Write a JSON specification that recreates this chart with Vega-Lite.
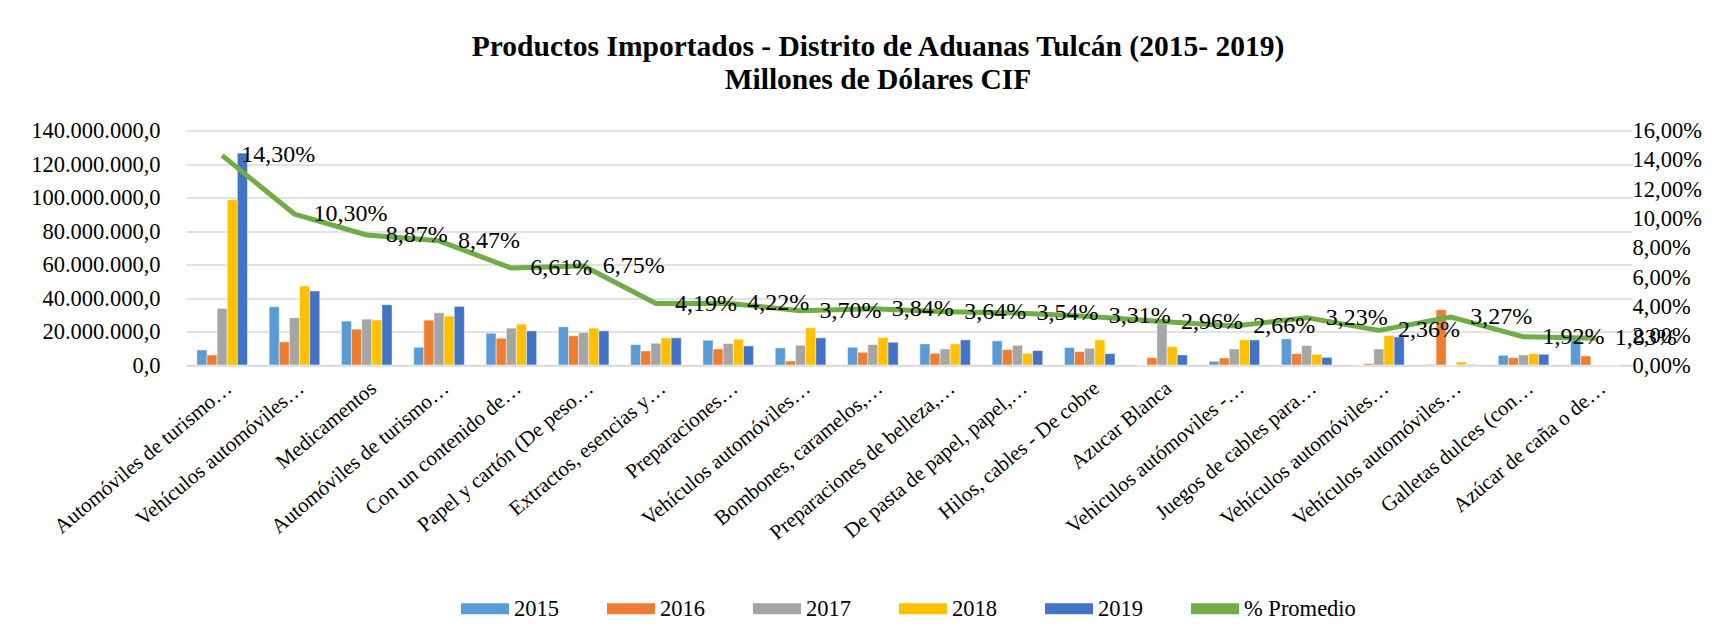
{
  "$schema": "https://vega.github.io/schema/vega-lite/v6.json",
  "autosize": {"type": "none"},
  "width": 1446,
  "height": 234.5,
  "padding": {"left": 186, "top": 130.5, "right": 96, "bottom": 274},
  "background": "white",
  "config": {
    "locale": {"number": {"decimal": ",", "thousands": ".", "grouping": [3], "currency": ["$", ""]}},
    "font": "Liberation Serif",
    "view": {"stroke": null},
    "axis": {"labelFont": "Liberation Serif", "labelColor": "black", "title": null},
    "legend": {"labelFont": "Liberation Serif", "labelColor": "black"}
  },
  "title": {
    "text": ["Productos Importados - Distrito de Aduanas Tulcán (2015- 2019)", "Millones de Dólares CIF"],
    "font": "Liberation Serif",
    "fontSize": 29.5,
    "fontWeight": "bold",
    "color": "black",
    "anchor": "middle",
    "dx": -31,
    "offset": 24,
    "lineHeight": 33
  },
  "datasets": {
    "bars": [
      {"producto": "Automóviles de turismo…", "serie": "2015", "valor": 9000000},
      {"producto": "Automóviles de turismo…", "serie": "2016", "valor": 6000000},
      {"producto": "Automóviles de turismo…", "serie": "2017", "valor": 33800000},
      {"producto": "Automóviles de turismo…", "serie": "2018", "valor": 98600000},
      {"producto": "Automóviles de turismo…", "serie": "2019", "valor": 126500000},
      {"producto": "Vehículos automóviles…", "serie": "2015", "valor": 34800000},
      {"producto": "Vehículos automóviles…", "serie": "2016", "valor": 13800000},
      {"producto": "Vehículos automóviles…", "serie": "2017", "valor": 28200000},
      {"producto": "Vehículos automóviles…", "serie": "2018", "valor": 47200000},
      {"producto": "Vehículos automóviles…", "serie": "2019", "valor": 44200000},
      {"producto": "Medicamentos", "serie": "2015", "valor": 26200000},
      {"producto": "Medicamentos", "serie": "2016", "valor": 21400000},
      {"producto": "Medicamentos", "serie": "2017", "valor": 27400000},
      {"producto": "Medicamentos", "serie": "2018", "valor": 26800000},
      {"producto": "Medicamentos", "serie": "2019", "valor": 36000000},
      {"producto": "Automóviles de turismo…\u200b", "serie": "2015", "valor": 10600000},
      {"producto": "Automóviles de turismo…\u200b", "serie": "2016", "valor": 26800000},
      {"producto": "Automóviles de turismo…\u200b", "serie": "2017", "valor": 31200000},
      {"producto": "Automóviles de turismo…\u200b", "serie": "2018", "valor": 29200000},
      {"producto": "Automóviles de turismo…\u200b", "serie": "2019", "valor": 35000000},
      {"producto": "Con un contenido de…", "serie": "2015", "valor": 19000000},
      {"producto": "Con un contenido de…", "serie": "2016", "valor": 16000000},
      {"producto": "Con un contenido de…", "serie": "2017", "valor": 22000000},
      {"producto": "Con un contenido de…", "serie": "2018", "valor": 24400000},
      {"producto": "Con un contenido de…", "serie": "2019", "valor": 20400000},
      {"producto": "Papel y cartón (De peso…", "serie": "2015", "valor": 22800000},
      {"producto": "Papel y cartón (De peso…", "serie": "2016", "valor": 17400000},
      {"producto": "Papel y cartón (De peso…", "serie": "2017", "valor": 19400000},
      {"producto": "Papel y cartón (De peso…", "serie": "2018", "valor": 22000000},
      {"producto": "Papel y cartón (De peso…", "serie": "2019", "valor": 20400000},
      {"producto": "Extractos, esencias y…", "serie": "2015", "valor": 12200000},
      {"producto": "Extractos, esencias y…", "serie": "2016", "valor": 8400000},
      {"producto": "Extractos, esencias y…", "serie": "2017", "valor": 13000000},
      {"producto": "Extractos, esencias y…", "serie": "2018", "valor": 16200000},
      {"producto": "Extractos, esencias y…", "serie": "2019", "valor": 16200000},
      {"producto": "Preparaciones…", "serie": "2015", "valor": 14800000},
      {"producto": "Preparaciones…", "serie": "2016", "valor": 9600000},
      {"producto": "Preparaciones…", "serie": "2017", "valor": 12800000},
      {"producto": "Preparaciones…", "serie": "2018", "valor": 15400000},
      {"producto": "Preparaciones…", "serie": "2019", "valor": 11400000},
      {"producto": "Vehículos automóviles…\u200b", "serie": "2015", "valor": 10200000},
      {"producto": "Vehículos automóviles…\u200b", "serie": "2016", "valor": 2400000},
      {"producto": "Vehículos automóviles…\u200b", "serie": "2017", "valor": 11800000},
      {"producto": "Vehículos automóviles…\u200b", "serie": "2018", "valor": 22200000},
      {"producto": "Vehículos automóviles…\u200b", "serie": "2019", "valor": 16200000},
      {"producto": "Bombones, caramelos,…", "serie": "2015", "valor": 10600000},
      {"producto": "Bombones, caramelos,…", "serie": "2016", "valor": 7600000},
      {"producto": "Bombones, caramelos,…", "serie": "2017", "valor": 12200000},
      {"producto": "Bombones, caramelos,…", "serie": "2018", "valor": 16400000},
      {"producto": "Bombones, caramelos,…", "serie": "2019", "valor": 13600000},
      {"producto": "Preparaciones de belleza,…", "serie": "2015", "valor": 12600000},
      {"producto": "Preparaciones de belleza,…", "serie": "2016", "valor": 7000000},
      {"producto": "Preparaciones de belleza,…", "serie": "2017", "valor": 9600000},
      {"producto": "Preparaciones de belleza,…", "serie": "2018", "valor": 12600000},
      {"producto": "Preparaciones de belleza,…", "serie": "2019", "valor": 15000000},
      {"producto": "De pasta de papel, papel,…", "serie": "2015", "valor": 14400000},
      {"producto": "De pasta de papel, papel,…", "serie": "2016", "valor": 9200000},
      {"producto": "De pasta de papel, papel,…", "serie": "2017", "valor": 11800000},
      {"producto": "De pasta de papel, papel,…", "serie": "2018", "valor": 7000000},
      {"producto": "De pasta de papel, papel,…", "serie": "2019", "valor": 8600000},
      {"producto": "Hilos, cables - De cobre", "serie": "2015", "valor": 10400000},
      {"producto": "Hilos, cables - De cobre", "serie": "2016", "valor": 8000000},
      {"producto": "Hilos, cables - De cobre", "serie": "2017", "valor": 10000000},
      {"producto": "Hilos, cables - De cobre", "serie": "2018", "valor": 15000000},
      {"producto": "Hilos, cables - De cobre", "serie": "2019", "valor": 6800000},
      {"producto": "Azucar Blanca", "serie": "2015", "valor": 0},
      {"producto": "Azucar Blanca", "serie": "2016", "valor": 4400000},
      {"producto": "Azucar Blanca", "serie": "2017", "valor": 24500000},
      {"producto": "Azucar Blanca", "serie": "2018", "valor": 11000000},
      {"producto": "Azucar Blanca", "serie": "2019", "valor": 6000000},
      {"producto": "Vehiculos autómoviles -…", "serie": "2015", "valor": 2200000},
      {"producto": "Vehiculos autómoviles -…", "serie": "2016", "valor": 4200000},
      {"producto": "Vehiculos autómoviles -…", "serie": "2017", "valor": 9600000},
      {"producto": "Vehiculos autómoviles -…", "serie": "2018", "valor": 15000000},
      {"producto": "Vehiculos autómoviles -…", "serie": "2019", "valor": 15000000},
      {"producto": "Juegos de cables para…", "serie": "2015", "valor": 15600000},
      {"producto": "Juegos de cables para…", "serie": "2016", "valor": 6800000},
      {"producto": "Juegos de cables para…", "serie": "2017", "valor": 11600000},
      {"producto": "Juegos de cables para…", "serie": "2018", "valor": 6400000},
      {"producto": "Juegos de cables para…", "serie": "2019", "valor": 4600000},
      {"producto": "Vehículos automóviles…\u200b\u200b", "serie": "2015", "valor": 0},
      {"producto": "Vehículos automóviles…\u200b\u200b", "serie": "2016", "valor": 800000},
      {"producto": "Vehículos automóviles…\u200b\u200b", "serie": "2017", "valor": 9600000},
      {"producto": "Vehículos automóviles…\u200b\u200b", "serie": "2018", "valor": 17600000},
      {"producto": "Vehículos automóviles…\u200b\u200b", "serie": "2019", "valor": 16800000},
      {"producto": "Vehículos automóviles…\u200b\u200b\u200b", "serie": "2015", "valor": 400000},
      {"producto": "Vehículos automóviles…\u200b\u200b\u200b", "serie": "2016", "valor": 33000000},
      {"producto": "Vehículos automóviles…\u200b\u200b\u200b", "serie": "2017", "valor": 0},
      {"producto": "Vehículos automóviles…\u200b\u200b\u200b", "serie": "2018", "valor": 1800000},
      {"producto": "Vehículos automóviles…\u200b\u200b\u200b", "serie": "2019", "valor": 300000},
      {"producto": "Galletas dulces (con…", "serie": "2015", "valor": 5800000},
      {"producto": "Galletas dulces (con…", "serie": "2016", "valor": 4400000},
      {"producto": "Galletas dulces (con…", "serie": "2017", "valor": 6000000},
      {"producto": "Galletas dulces (con…", "serie": "2018", "valor": 6800000},
      {"producto": "Galletas dulces (con…", "serie": "2019", "valor": 6400000},
      {"producto": "Azúcar de caña o de…", "serie": "2015", "valor": 15000000},
      {"producto": "Azúcar de caña o de…", "serie": "2016", "valor": 5400000},
      {"producto": "Azúcar de caña o de…", "serie": "2017", "valor": 0},
      {"producto": "Azúcar de caña o de…", "serie": "2018", "valor": 0},
      {"producto": "Azúcar de caña o de…", "serie": "2019", "valor": 0}
    ],
    "linea": [
      {"producto": "Automóviles de turismo…", "pct": 0.143},
      {"producto": "Vehículos automóviles…", "pct": 0.103},
      {"producto": "Medicamentos", "pct": 0.0887},
      {"producto": "Automóviles de turismo…\u200b", "pct": 0.0847},
      {"producto": "Con un contenido de…", "pct": 0.0661},
      {"producto": "Papel y cartón (De peso…", "pct": 0.0675},
      {"producto": "Extractos, esencias y…", "pct": 0.0419},
      {"producto": "Preparaciones…", "pct": 0.0422},
      {"producto": "Vehículos automóviles…\u200b", "pct": 0.037},
      {"producto": "Bombones, caramelos,…", "pct": 0.0384},
      {"producto": "Preparaciones de belleza,…", "pct": 0.0364},
      {"producto": "De pasta de papel, papel,…", "pct": 0.0354},
      {"producto": "Hilos, cables - De cobre", "pct": 0.0331},
      {"producto": "Azucar Blanca", "pct": 0.0296},
      {"producto": "Vehiculos autómoviles -…", "pct": 0.0266},
      {"producto": "Juegos de cables para…", "pct": 0.0323},
      {"producto": "Vehículos automóviles…\u200b\u200b", "pct": 0.0236},
      {"producto": "Vehículos automóviles…\u200b\u200b\u200b", "pct": 0.0327},
      {"producto": "Galletas dulces (con…", "pct": 0.0192},
      {"producto": "Azúcar de caña o de…", "pct": 0.0183}
    ]
  },
  "layer": [
    {
      "data": {"name": "bars"},
      "mark": {"type": "bar", "stroke": "white", "strokeWidth": 0.6, "strokeOpacity": 0.8},
      "encoding": {
        "x": {
          "field": "producto", "type": "nominal", "sort": null,
          "scale": {"paddingInner": 0.3, "paddingOuter": 0.15},
          "axis": {
            "labelAngle": -40, "labelFontSize": 21, "labelLimit": 400, "labelPadding": 12,
            "ticks": false, "domainColor": "#D9D9D9", "domainWidth": 1.5, "grid": false
          }
        },
        "xOffset": {"field": "serie", "type": "nominal", "sort": null},
        "y": {
          "field": "valor", "type": "quantitative",
          "scale": {"domain": [0, 140000000], "nice": false},
          "axis": {
            "values": [0, 20000000, 40000000, 60000000, 80000000, 100000000, 120000000, 140000000],
            "format": ",.1f", "labelFontSize": 22.5, "labelPadding": 26, "labelOverlap": false,
            "domain": false, "ticks": false, "grid": true, "gridColor": "#D9D9D9", "gridWidth": 1.5
          }
        },
        "color": {
          "field": "serie", "type": "nominal",
          "scale": {
            "domain": ["2015", "2016", "2017", "2018", "2019", "% Promedio"],
            "range": ["#5B9BD5", "#ED7D31", "#A5A5A5", "#FFC000", "#4472C4", "#70AD47"]
          },
          "legend": {
            "title": null, "orient": "none", "legendX": 275, "legendY": 454,
            "direction": "horizontal", "columns": 6, "columnPadding": 48,
            "labelFontSize": 22.5, "labelOffset": 5,
            "symbolType": "M-1,-0.23H1V0.23H-1Z", "symbolSize": 2304, "symbolStrokeWidth": 0,
            "encode": {
              "symbols": {
                "update": {
                  "shape": {"signal": "datum.value === '% Promedio' ? 'stroke' : 'M-1,-0.23H1V0.23H-1Z'"},
                  "fill": {"signal": "datum.value === '% Promedio' ? 'transparent' : scale('color', datum.value)"},
                  "stroke": {"signal": "scale('color', datum.value)"},
                  "strokeWidth": {"signal": "datum.value === '% Promedio' ? 5 : 0"},
                  "strokeCap": {"value": "round"},
                  "opacity": {"value": 1}
                }
              }
            }
          }
        }
      }
    },
    {
      "data": {"name": "linea"},
      "layer": [
        {
          "mark": {"type": "line", "strokeWidth": 5, "strokeJoin": "round"},
          "encoding": {
            "x": {"field": "producto", "type": "nominal", "sort": null},
            "y": {
              "field": "pct", "type": "quantitative",
              "scale": {"domain": [0, 0.16], "nice": false},
              "axis": {
                "orient": "right",
                "values": [0, 0.02, 0.04, 0.06, 0.08, 0.1, 0.12, 0.14, 0.16],
                "format": ".2%", "labelFontSize": 22.5, "labelPadding": 0, "labelOverlap": false,
                "domain": false, "ticks": false, "grid": false
              }
            },
            "color": {"datum": "% Promedio"}
          }
        },
        {
          "mark": {"type": "text", "align": "left", "baseline": "middle", "dx": 19, "fontSize": 24, "font": "Liberation Serif", "color": "black"},
          "encoding": {
            "x": {"field": "producto", "type": "nominal", "sort": null},
            "y": {
              "field": "pct", "type": "quantitative",
              "axis": {
                "orient": "right",
                "values": [0, 0.02, 0.04, 0.06, 0.08, 0.1, 0.12, 0.14, 0.16],
                "format": ".2%", "labelFontSize": 22.5, "labelPadding": 0, "labelOverlap": false,
                "domain": false, "ticks": false, "grid": false
              }
            },
            "text": {"field": "pct", "type": "quantitative", "format": ".2%"}
          }
        }
      ]
    }
  ],
  "resolve": {"scale": {"y": "independent"}}
}
